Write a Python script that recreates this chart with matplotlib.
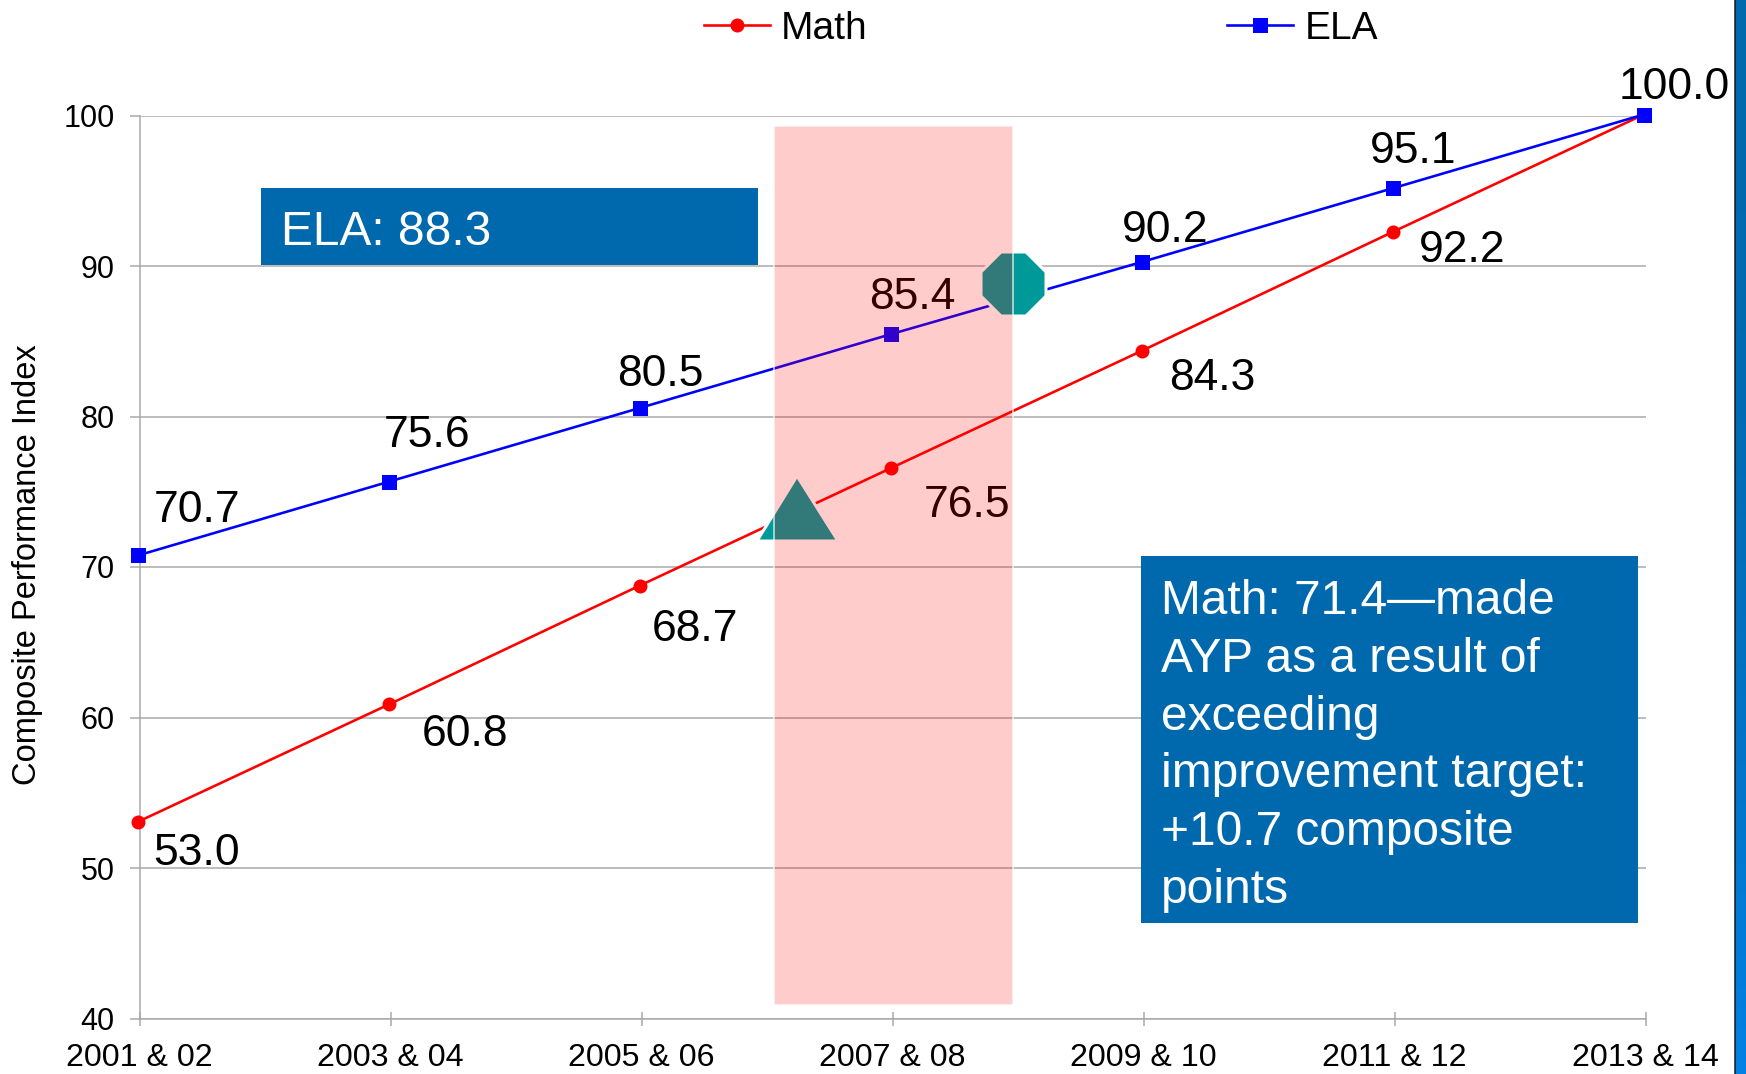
import numpy as np
import matplotlib
matplotlib.use("Agg")
import matplotlib.pyplot as plt
from matplotlib.patches import Rectangle, Polygon
from matplotlib.transforms import Affine2D

plt.rcParams['font.family'] = ['Liberation Sans', 'DejaVu Sans']

years = ["2001 & 02", "2003 & 04", "2005 & 06", "2007 & 08", "2009 & 10", "2011 & 12", "2013 & 14"]
math_vals = [53.0, 60.8, 68.7, 76.5, 84.3, 92.2, 100.0]
ela_vals = [70.7, 75.6, 80.5, 85.4, 90.2, 95.1, 100.0]
y_ticks = [40, 50, 60, 70, 80, 90, 100]
ela_note = "ELA: 88.3"
math_note = "Math: 71.4—made\nAYP as a result of\nexceeding\nimprovement target:\n+10.7 composite\npoints"

W, H = 1746, 1074
PX = 0.72  # points per pixel at dpi 100
math_off = [(14, -31), (31, -29), (10, -43), (31, -36), (26, -27), (24.5, -18)]
ela_off = [(14, 46), (-7, 47), (-24, 34), (-23.5, 38), (-22, 32), (-24.5, 38), (-26.5, 28)]
BOX = '#0068AD'

fig = plt.figure(figsize=(W / 100, H / 100), dpi=100, facecolor='white')
L, R, T, B = 139.5, 1645.5, 115.5, 1018.5
ax = fig.add_axes([L / W, 1 - B / H, (R - L) / W, (B - T) / H], zorder=1)
ax.set_xlim(0, 6)
ax.set_ylim(40, 100)
xs = np.arange(len(years))
GRID = '#a8a8a8'
ax.grid(axis='y', color=GRID, lw=1.5 * PX)
ax.set_axisbelow(True)
for s in ('top', 'right'):
    ax.spines[s].set_visible(False)
for s in ('left', 'bottom'):
    ax.spines[s].set_color(GRID)
    ax.spines[s].set_linewidth(1.5 * PX)
ax.set_xticks(xs, years)
ax.set_yticks(y_ticks)
ax.tick_params(axis='x', direction='inout', length=14 * PX, width=1.5 * PX, color=GRID,
               labelsize=23.1, pad=18 * PX, labelcolor='black')
ax.tick_params(axis='y', direction='out', length=10 * PX, width=1.5 * PX, color=GRID,
               labelsize=22, pad=15 * PX, labelcolor='black')
ax.set_ylabel("Composite Performance Index", fontsize=23.5)
ax.yaxis.set_label_coords(43 / W, 1 - 565 / H, transform=fig.transFigure)

# the series sit slightly left of and above the tick positions in the reference
nudge = ax.transData + Affine2D().translate(-1.7, 1.0)
ax.plot(xs, math_vals, color='#FF0000', lw=2.6 * PX, marker='o', ms=14 * PX, mew=0,
        clip_on=False, label='Math', zorder=3, transform=nudge)
ax.plot(xs, ela_vals, color='#0000FF', lw=2.6 * PX, marker='s', ms=15 * PX, mew=0,
        clip_on=False, label='ELA', zorder=4, transform=nudge)

for x, v, off in zip(xs, math_vals, math_off):
    ax.annotate(f"{v:.1f}", (x, v), xytext=(off[0] * PX, off[1] * PX), textcoords='offset points',
                fontsize=32, ha='left', va='center', color='black', zorder=5)
for x, v, off in zip(xs, ela_vals, ela_off):
    ax.annotate(f"{v:.1f}", (x, v), xytext=(off[0] * PX, off[1] * PX), textcoords='offset points',
                fontsize=32, ha='left', va='center', color='black', zorder=5, annotation_clip=False)

ax.legend(loc='center left', bbox_to_anchor=(704 / W, 1 - 29 / H), bbox_transform=fig.transFigure,
          ncol=2, frameon=False, fontsize=28, handlelength=1.7, handletextpad=0.28,
          columnspacing=9.25, borderpad=0, borderaxespad=0)

# overlay in pixel coordinates for the annotation shapes
ov = fig.add_axes([0, 0, 1, 1], zorder=2)
ov.set_xlim(0, W)
ov.set_ylim(H, 0)
ov.axis('off')
ov.patch.set_alpha(0)

ov.add_patch(Rectangle((261, 188), 497, 77, fc=BOX, ec='none', zorder=2))
ov.text(281, 232.5, ela_note, color='white', fontsize=34.5, ha='left', va='center', zorder=3)
ov.add_patch(Rectangle((1141, 556), 497, 367, fc=BOX, ec='none', zorder=2))
ov.text(1161, 746, math_note, color='white', fontsize=34.5, ha='left', va='center', linespacing=1.37, zorder=3)

TEAL = '#009999'
ov.add_patch(Polygon([(757, 541), (797, 476), (838, 541)], closed=True, fc=TEAL, ec='white', lw=3 * PX, zorder=2))
ov.add_patch(Polygon([(1001, 252), (1026, 252), (1046, 272), (1046, 296), (1026, 316), (1001, 316), (981, 296), (981, 272)],
                     closed=True, fc=TEAL, ec='white', lw=3 * PX, zorder=2))
ov.add_patch(Rectangle((774, 126), 239, 879, fc=(1, 0, 0, 0.2), ec=(1, 1, 1, 0.8), lw=1.5 * PX, zorder=6))

# right-hand slide band
cmap = matplotlib.colors.LinearSegmentedColormap.from_list('band', ['#0068AD', '#0082E4'])
ov.imshow(np.linspace(0, 1, 256)[:, None] ** 2, extent=(1735, W, H, 0), cmap=cmap, aspect='auto', zorder=2)
ov.set_xlim(0, W)
ov.set_ylim(H, 0)
ov.add_line(plt.Line2D([1734.5, 1734.5], [0, H], color='#101820', lw=1.5 * PX, zorder=3))

fig.savefig('out.png', dpi=100)
